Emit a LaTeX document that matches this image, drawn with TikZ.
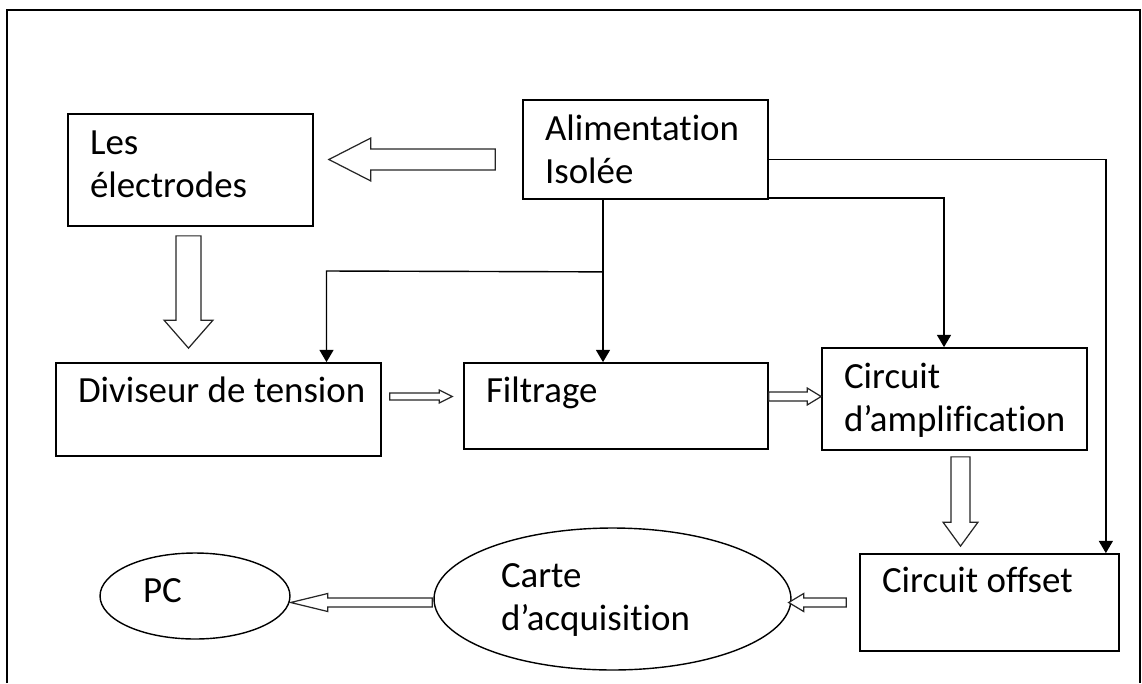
\documentclass[tikz,border=0pt]{standalone}
\usepackage{fontspec}
\setmainfont{Carlito}[Ligatures=NoCommon]
\usetikzlibrary{arrows.meta,calc,shapes.geometric}

\tikzset{
  block/.style={draw, rectangle, line width=1pt, inner xsep=0.44cm, inner ysep=0pt, align=flush left, font=\fontsize{21}{25}\selectfont},
  oval/.style={draw, ellipse, line width=0.8pt, inner sep=0pt, align=flush left, font=\fontsize{21}{25}\selectfont},
  wire/.style={line width=0.8pt, -{Triangle[width=8pt,length=7pt]}},
  hollow/.style={draw=black!85, line width=0.7pt, fill=white, line join=miter},
}

% block arrow: tail, tip, half shaft, half head, head length
\newcommand{\fatarrow}[5]{%
  \draw[hollow] ($(#1)!#3!90:(#2)$) -- ($($(#2)!#5!(#1)$)!#3!90:(#2)$) -- ($($(#2)!#5!(#1)$)!#4!90:(#2)$) -- (#2)
    -- ($($(#2)!#5!(#1)$)!#4!-90:(#2)$) -- ($($(#2)!#5!(#1)$)!#3!-90:(#2)$) -- ($(#1)!#3!-90:(#2)$) -- cycle;}

\begin{document}
\begin{tikzpicture}[x=0.02cm, y=-0.02cm]
\useasboundingbox (0,0) rectangle (1142,683);
\draw[line width=1pt] (7,683) -- (7,10) -- (1140,10) -- (1140,683);

\node[block, text width=4.02cm, text height=0.8cm, text depth=1.44cm] (elec) at (190.5,170) {Les\\électrodes};
\node[block, text width=4.02cm, text height=0.8cm, text depth=1.18cm] (alim) at (645.5,149.5) {Alimentation\\Isolée};
\node[block, text width=5.62cm, text height=0.78cm, text depth=1.08cm] (div) at (218.5,409.5) {\mbox{Diviseur de tension}};
\node[block, text width=5.2cm, text height=0.78cm, text depth=0.94cm] (filt) at (616,406) {Filtrage};
\node[block, text width=4.42cm, text height=0.8cm, text depth=1.24cm] (ampl) at (954.5,399) {Circuit\\d’amplification};
\node[block, text width=4.3cm, text height=0.76cm, text depth=1.18cm] (offs) at (989.5,602.5) {Circuit offset};
\node[oval, minimum width=3.8cm, minimum height=1.72cm, text width=2.08cm, text height=0.4cm, text depth=0.16cm] (pc) at (195,596) {PC};
\node[oval, minimum width=7.14cm, minimum height=2.84cm, text width=4.46cm, text height=0.52cm, text depth=1.0cm] (carte) at (612.5,599) {Carte\\d’acquisition};

% supply lines
\coordinate (split) at ($(alim.south)+(-42.5,72)$);
\coordinate (tap) at (326.5,271);
\draw[wire] (alim.south -| split) -- (filt.north -| split);
\draw[wire] (split) -- (tap) -- (tap |- div.north);
\draw[wire] ([yshift=0.04cm]alim.south east) -| ([xshift=-0.21cm]ampl.north);
\draw[wire] ([yshift=-0.2cm]alim.east) -| ([xshift=-0.28cm]offs.north east);

% signal path
\coordinate (ae-t) at ($(alim.west)+(-27,10)$);
\coordinate (ae-h) at ($(elec.east)+(15,-10.5)$);
\coordinate (ed-t) at ($(elec.south)+(-2,9)$);
\coordinate (ed-h) at ($(div.north)+(-30,-14)$);
\coordinate (df-t) at ($(div.east)+(8,-13)$);
\coordinate (df-h) at ($(filt.west)+(-11,-9.5)$);
\coordinate (fa-t) at ($(filt.east)+(0,-9.5)$);
\coordinate (fa-h) at ($(ampl.west)+(0,-2.5)$);
\coordinate (ao-t) at ($(ampl.south)+(6,6)$);
\coordinate (ao-h) at ($(offs.north)+(-29,-7)$);
\coordinate (oc-t) at ($(offs.west)+(-13,0)$);
\coordinate (oc-h) at ($(carte.east)+(-3,3.5)$);
\coordinate (cp-t) at ($(carte.west)+(-1,3.5)$);
\coordinate (cp-h) at ($(pc.east)+(0,6.5)$);
\fatarrow{ae-t}{ae-h}{0.21cm}{0.43cm}{0.84cm}
\fatarrow{ed-t}{ed-h}{0.25cm}{0.49cm}{0.56cm}
\fatarrow{df-t}{df-h}{0.07cm}{0.13cm}{0.26cm}
\fatarrow{fa-t}{fa-h}{0.09cm}{0.17cm}{0.28cm}
\fatarrow{ao-t}{ao-h}{0.19cm}{0.35cm}{0.48cm}
\fatarrow{oc-t}{oc-h}{0.09cm}{0.18cm}{0.30cm}
\fatarrow{cp-t}{cp-h}{0.09cm}{0.18cm}{0.74cm}

\end{tikzpicture}
\end{document}
